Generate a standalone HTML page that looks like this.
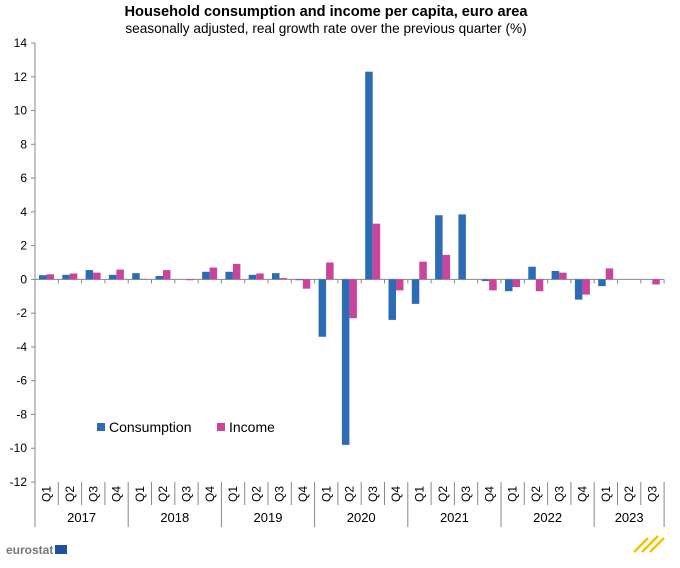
<!DOCTYPE html>
<html><head><meta charset="utf-8"><style>
body{margin:0;background:#fff;font-family:"Liberation Sans",Arial,sans-serif}
svg text{font-family:"Liberation Sans",Arial,sans-serif}
</style></head><body>
<svg id="chart" width="680" height="563" xmlns="http://www.w3.org/2000/svg">
<text x="326" y="16" text-anchor="middle" font-size="14.6" font-weight="bold">Household consumption and income per capita, euro area</text>
<text x="326" y="33" text-anchor="middle" font-size="13.6">seasonally adjusted, real growth rate over the previous quarter (%)</text>
<g id="axes"></g><g id="bars"></g>
<g>
<rect x="97" y="423" width="8" height="8" fill="#2b6cb5"/>
<text x="109" y="432" font-size="14">Consumption</text>
<rect x="217" y="423" width="8" height="8" fill="#c9449a"/>
<text x="229" y="432" font-size="14">Income</text>
</g>
<text x="6" y="554" font-size="12" font-weight="bold" fill="#777">eurostat</text>
<rect x="55" y="545" width="12" height="9" fill="#1f4fa0"/>
<path d="M634 552 L648 538 M642 552 L658 536 M650 552 L664 538" stroke="#f2c200" stroke-width="2.5"/>
</svg>
<script>
const years = ["2017","2018","2019","2020","2021","2022","2023"];
const quarters = ["Q1","Q2","Q3","Q4","Q1","Q2","Q3","Q4","Q1","Q2","Q3","Q4","Q1","Q2","Q3","Q4","Q1","Q2","Q3","Q4","Q1","Q2","Q3","Q4","Q1","Q2","Q3"];
const consumption = [0.25,0.27,0.55,0.27,0.37,0.2,0,0.45,0.45,0.27,0.37,-0.05,-3.4,-9.8,12.3,-2.4,-1.45,3.8,3.85,-0.1,-0.7,0.75,0.5,-1.2,-0.4,0,0];
const income = [0.3,0.35,0.4,0.58,0.03,0.55,-0.05,0.7,0.92,0.35,0.08,-0.55,1.0,-2.3,3.3,-0.65,1.05,1.45,0,-0.65,-0.45,-0.7,0.4,-0.9,0.65,0,-0.3];
const yTicks = [14,12,10,8,6,4,2,0,-2,-4,-6,-8,-10,-12];
const NS="http://www.w3.org/2000/svg";
const X0=35, QW=23.3, YT=43, YB=482, VMAX=14, VMIN=-12;
const y = v => YT + (VMAX - v) * (YB - YT) / (VMAX - VMIN);
const x = i => X0 + i * QW;
function mk(tag, attrs, parent, text){const e=document.createElementNS(NS,tag);for(const k in attrs)e.setAttribute(k,attrs[k]);if(text!==undefined)e.textContent=text;parent.appendChild(e);return e;}
const ax=document.getElementById('axes'), bg=document.getElementById('bars');
let e=mk('line',{x1:X0,y1:YT,x2:X0,y2:YB,stroke:'#888'},ax);


yTicks.forEach(t=>{
  mk('line',{x1:X0-4,y1:y(t),x2:X0,y2:y(t),stroke:'#888'},ax);
  const tx=mk('text',{x:X0-8,y:y(t)+4,'text-anchor':'end','font-size':12},ax,String(t));
  
  
});
const n=quarters.length;
e=mk('line',{x1:X0,y1:y(0),x2:x(n),y2:y(0),stroke:'#888'},ax);


for(let i=0;i<=n;i++){
  mk('line',{x1:x(i),y1:y(0),x2:x(i),y2:y(0)+4,stroke:'#888'},ax);
  const isYear = i%4===0 || i===n;
  mk('line',{x1:x(i),y1:YB,x2:x(i),y2:isYear?527:505,stroke:'#888'},ax);
}
quarters.forEach((q,i)=>{
  const cx=x(i)+QW/2+4, cy=494;
  const t=mk('text',{x:cx,y:cy,'font-size':12,'text-anchor':'middle',transform:`rotate(-90 ${cx} ${cy})`},ax,q);
  
  
});
years.forEach((yr,k)=>{
  const cnt=Math.min(4,n-k*4);
  const t=mk('text',{x:x(k*4)+cnt*QW/2,y:522,'font-size':13,'text-anchor':'middle'},ax,yr);
  
  
});
const BW=7.5;
for(let i=0;i<n;i++){
  const c=consumption[i], m=income[i];
  const r1=mk('rect',{x:x(i)+4,y:Math.min(y(c),y(0)),width:BW,height:Math.abs(y(c)-y(0)),fill:'#2b6cb5'},bg);
  
  
  const r2=mk('rect',{x:x(i)+4+BW,y:Math.min(y(m),y(0)),width:BW,height:Math.abs(y(m)-y(0)),fill:'#c9449a'},bg);
  
  
}
</script>
</body></html>
